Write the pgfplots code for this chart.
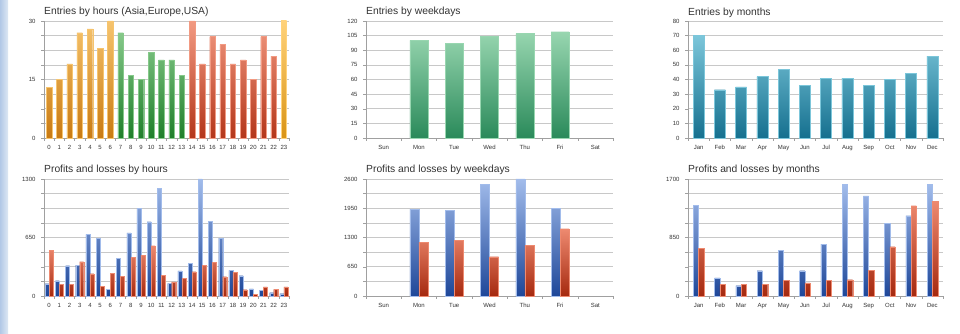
\documentclass[border=0pt]{standalone}
\usepackage{pgfplots}
\pgfplotsset{compat=1.18}
\usepackage{fontspec}
\setmainfont{Liberation Sans}
\definecolor{oT}{HTML}{F6C46E}\definecolor{oB}{HTML}{C97A12}
\definecolor{gT}{HTML}{86C98A}\definecolor{gB}{HTML}{1F7F2A}
\definecolor{rT}{HTML}{F29A82}\definecolor{rB}{HTML}{B3361A}
\definecolor{yT}{HTML}{FFD27A}\definecolor{yB}{HTML}{D99416}
\definecolor{wT}{HTML}{98D6B0}\definecolor{wB}{HTML}{2A8A5A}
\definecolor{mT}{HTML}{7CC6DA}\definecolor{mB}{HTML}{15708F}
\definecolor{bT}{HTML}{A2BCEB}\definecolor{bB}{HTML}{1E4799}
\definecolor{pT}{HTML}{EE8A70}\definecolor{pB}{HTML}{A5290F}
\definecolor{gridc}{HTML}{C8C8C8}
\definecolor{axc}{HTML}{A0A0A0}
\definecolor{txt}{HTML}{333333}
\pgfplotsset{
  panel/.style={
    scale only axis, height=117pt,
    axis lines*=left,
    axis line style={draw=axc, line width=0.5pt},
    ymin=0,
    ymajorgrids, yminorgrids,
    major grid style={draw=gridc, line width=0.5pt},
    minor grid style={draw=gridc, line width=0.5pt},
    tick align=outside,
    major tick length=3pt, minor tick length=3pt,
    tick style={draw=axc, line width=0.4pt},
    every major x tick/.append style={draw=none},
    tick label style={font=\fontsize{6}{7}\selectfont, text=txt},
    /pgf/number format/assume math mode=true,
    /pgf/number format/1000 sep={},
    yticklabel style={xshift=-2pt},
    xticklabel style={yshift=-1pt},
    title style={at={(0,1)}, anchor=base west, inner sep=0pt,
      font=\fontsize{10.3}{12}\selectfont, text=txt},
    clip=false,
  },
}
\begin{document}
\begin{tikzpicture}
\path[use as bounding box, fill=white] (0,0) rectangle (960pt,334pt);
\shade[left color={rgb,255:red,178;green,200;blue,230}, right color={rgb,255:red,222;green,232;blue,244}] (0,0) rectangle (8pt,334pt);
% Panel 1
\begin{axis}[panel, at={(44pt,196pt)}, anchor=south west, width=245pt,
  title={Entries by hours (Asia,Europe,USA)},
  xmin=-0.5, xmax=23.5, ymax=30,
  ytick={0,15,30}, minor ytick={3.75,7.5,11.25,18.75,22.5,26.25},
  xtick={0,...,23}, minor xtick={-0.5,0.5,...,23.5}]
\addplot[ybar, bar width=5.5pt, bar shift=0pt, draw=oT, line width=0.3pt, top color=oT, bottom color=oB]
 coordinates {(0,13)(1,15)(2,19)(3,27)(4,28)(5,23)(6,30)};
\addplot[ybar, bar width=5.5pt, bar shift=0pt, draw=gT, line width=0.3pt, top color=gT, bottom color=gB]
 coordinates {(7,27)(8,16)(9,15)(10,22)(11,20)(12,20)(13,16)};
\addplot[ybar, bar width=5.5pt, bar shift=0pt, draw=rT, line width=0.3pt, top color=rT, bottom color=rB]
 coordinates {(14,30)(15,19)(16,26)(17,24)(18,19)(19,20)(20,15)(21,26)(22,21)};
\addplot[ybar, bar width=5.5pt, bar shift=0pt, draw=yT, line width=0.3pt, top color=yT, bottom color=yB]
 coordinates {(23,30)};
\end{axis}
% Panel 2
\begin{axis}[panel, at={(366pt,196pt)}, anchor=south west, width=247pt,
  title={Entries by weekdays},
  xmin=-0.5, xmax=6.5, ymax=120,
  ytick={0,15,...,120},
  xtick={0,...,6}, xticklabels={Sun,Mon,Tue,Wed,Thu,Fri,Sat},
  minor xtick={-0.5,0.5,...,6.5}]
\addplot[ybar, bar width=18pt, bar shift=0pt, draw=wT, line width=0.4pt, top color=wT, bottom color=wB]
 coordinates {(1,100)(2,97)(3,104)(4,107)(5,109)};
\end{axis}
% Panel 3
\begin{axis}[panel, at={(688pt,196pt)}, anchor=south west, width=255pt,
  title={Entries by months},
  xmin=-0.5, xmax=11.5, ymax=80,
  ytick={0,10,...,80},
  xtick={0,...,11}, xticklabels={Jan,Feb,Mar,Apr,May,Jun,Jul,Aug,Sep,Oct,Nov,Dec},
  minor xtick={-0.5,0.5,...,11.5}]
\addplot[ybar, bar width=11pt, bar shift=0pt, draw=mT, line width=0.4pt, top color=mT, bottom color=mB]
 coordinates {(0,70)(1,33)(2,35)(3,42)(4,47)(5,36)(6,41)(7,41)(8,36)(9,40)(10,44)(11,56)};
\end{axis}
% Panel 4
\begin{axis}[panel, at={(44pt,38pt)}, anchor=south west, width=245pt,
  title={Profits and losses by hours},
  xmin=-0.5, xmax=23.5, ymax=1300,
  ytick={0,650,1300}, minor ytick={162.5,325,487.5,812.5,975,1137.5},
  xtick={0,...,23}, minor xtick={-0.5,0.5,...,23.5}]
\addplot[ybar, bar width=4pt, bar shift=-2pt, draw=bT, line width=0.2pt, top color=bT, bottom color=bB]
 coordinates {(0,137)(1,170)(2,337)(3,344)(4,685)(5,641)(6,74)(7,419)(8,700)(9,974)(10,826)(11,1196)
 (12,141)(13,278)(14,363)(15,1300)(16,830)(17,644)(18,285)(19,226)(20,78)(21,63)(22,37)(23,26)};
\addplot[ybar, bar width=4pt, bar shift=2pt, draw=pT, line width=0.2pt, top color=pT, bottom color=pB]
 coordinates {(0,511)(1,130)(2,133)(3,381)(4,248)(5,107)(6,252)(7,222)(8,430)(9,452)(10,559)(11,230)
 (12,156)(13,196)(14,270)(15,341)(16,374)(17,215)(18,263)(19,70)(20,22)(21,100)(22,74)(23,100)};
\end{axis}
% Panel 5
\begin{axis}[panel, at={(366pt,38pt)}, anchor=south west, width=247pt,
  title={Profits and losses by weekdays},
  xmin=-0.5, xmax=6.5, ymax=2600,
  ytick={0,650,1300,1950,2600}, minor ytick={325,975,1625,2275},
  xtick={0,...,6}, xticklabels={Sun,Mon,Tue,Wed,Thu,Fri,Sat},
  minor xtick={-0.5,0.5,...,6.5}]
\addplot[ybar, bar width=9pt, bar shift=-4.5pt, draw=bT, line width=0.3pt, top color=bT, bottom color=bB]
 coordinates {(1,1933)(2,1911)(3,2481)(4,2600)(5,1948)};
\addplot[ybar, bar width=9pt, bar shift=4.5pt, draw=pT, line width=0.3pt, top color=pT, bottom color=pB]
 coordinates {(1,1193)(2,1230)(3,874)(4,1133)(5,1496)};
\end{axis}
% Panel 6
\begin{axis}[panel, at={(688pt,38pt)}, anchor=south west, width=255pt,
  title={Profits and losses by months},
  xmin=-0.5, xmax=11.5, ymax=1700,
  ytick={0,850,1700}, minor ytick={212.5,425,637.5,1062.5,1275,1487.5},
  xtick={0,...,11}, xticklabels={Jan,Feb,Mar,Apr,May,Jun,Jul,Aug,Sep,Oct,Nov,Dec},
  minor xtick={-0.5,0.5,...,11.5}]
\addplot[ybar, bar width=5.3pt, bar shift=-2.65pt, draw=bT, line width=0.3pt, top color=bT, bottom color=bB]
 coordinates {(0,1317)(1,262)(2,150)(3,368)(4,668)(5,368)(6,755)(7,1627)(8,1453)(9,1056)(10,1167)(11,1622)};
\addplot[ybar, bar width=5.3pt, bar shift=2.65pt, draw=pT, line width=0.3pt, top color=pT, bottom color=pB]
 coordinates {(0,693)(1,170)(2,170)(3,165)(4,232)(5,189)(6,228)(7,237)(8,373)(9,717)(10,1312)(11,1380)};
\end{axis}
\end{tikzpicture}
\end{document}
